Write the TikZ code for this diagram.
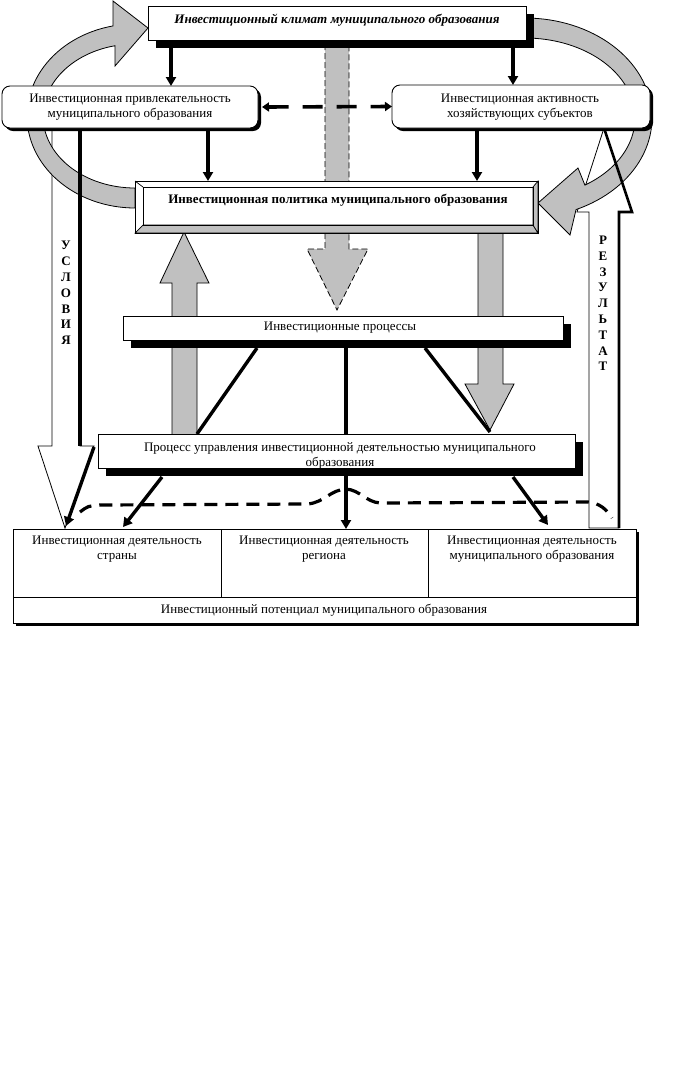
\documentclass[tikz,border=0pt]{standalone}
\usepackage{fontspec}
\setmainfont{Liberation Serif}
\usetikzlibrary{arrows.meta,shadows,calc}
\definecolor{ltgray}{RGB}{192,192,192}
\begin{document}
\begin{tikzpicture}[x=1pt,y=-1pt,
  txt/.style={font=\fontsize{13}{15}\selectfont, align=center, inner sep=0pt},
  box/.style={draw=black, fill=white, line width=0.9pt, inner sep=0pt, outer sep=0pt},
  bigshadow/.style={drop shadow={shadow xshift=8pt, shadow yshift=-8pt, fill=black, opacity=1}},
  smallshadow/.style={drop shadow={shadow xshift=3pt, shadow yshift=-3pt, fill=black, opacity=1}},
  blk/.style={line width=3.4pt, -{Triangle[length=9pt,width=10pt]}},
  bar/.style={line width=3.4pt},
  grayarrow/.style={fill=ltgray, draw=black, line width=0.8pt},
  whitearrow/.style={fill=white, draw=black, line width=0.8pt},
  dashline/.style={line width=3.2pt, dash pattern=on 13pt off 8pt},
  letters/.style={font=\bfseries\fontsize{13}{15.8}\selectfont, align=center, inner sep=0pt}
]
\fill[white] (0,0) rectangle (687,1080);
\useasboundingbox (0,0) rectangle (687,1080);

% white block arrows
\draw[whitearrow] (52,128) -- (52,446) -- (38,446) -- (65,528) -- (94,446) -- (80,446) -- (80,128) -- cycle;
\draw[whitearrow] (589,528) -- (589,212) -- (577,212) -- (604,128) -- (632,212) -- (619,212) -- (619,528) -- cycle;

% curved gray arrows
\draw[grayarrow] plot[domain=90:258.25,samples=60,variable=\t] ({135+108*cos(\t)},{116+92*sin(\t)})
  -- (113,1) -- (148,28) -- (115,66)
  -- plot[domain=257.5:90,samples=60,variable=\t] ({135+92*cos(\t)},{116+72*sin(\t)}) -- cycle;
\draw[grayarrow] plot[domain=268:426.3,samples=60,variable=\t] ({525+127*cos(\t)},{118+100*sin(\t)})
  -- (570,235) -- (538,203) -- (578,168)
  -- plot[domain=417:268,samples=60,variable=\t] ({525+110*cos(\t)},{118+80*sin(\t)}) -- cycle;

% thick sides of the white arrows
\draw[bar] (80,128) -- (80,446);
\draw[blk] (94,447) -- (66,526);
\draw[line width=2.6pt, line join=miter] (619,528) -- (619,212) -- (632,212) -- (604,128);

% straight gray arrows
\draw[grayarrow] (172,440) -- (172,283) -- (160,283) -- (184,232) -- (209,283) -- (197,283) -- (197,440) -- cycle;
\draw[grayarrow] (478,225) -- (478,384) -- (465,384) -- (490,430) -- (514,384) -- (503,384) -- (503,225) -- cycle;
\draw[grayarrow, dash pattern=on 6pt off 3pt] (325,44) -- (325,249) -- (307,249) -- (337,310) -- (368,249) -- (349,249) -- (349,44) -- cycle;

% boxes
\node[box, bigshadow, minimum width=378pt, minimum height=34pt] (klimat) at (337,23) {};
\node[txt, font=\bfseries\itshape\fontsize{13}{15}\selectfont] (klimatT) at (337,20) {Инвестиционный климат муниципального образования};

\node[box, smallshadow, rounded corners=8pt, minimum width=256pt, minimum height=42pt] (privl) at (130,107) {};
\node[txt] (privlT) at (130,107.5) {Инвестиционная привлекательность\\муниципального образования};

\node[box, smallshadow, rounded corners=8pt, minimum width=258pt, minimum height=43pt] (aktiv) at (521,106.5) {};
\node[txt] (aktivT) at (520,107.5) {Инвестиционная активность\\хозяйствующих субъектов};

\node[box, minimum width=403pt, minimum height=52pt] (politika) at (336.5,207) {};
\filldraw[fill=ltgray, draw=black, line width=0.7pt] (135,233) -- (538,233) -- (533,225) -- (143,225) -- cycle;
\filldraw[fill=ltgray, draw=black, line width=0.7pt] (538,181) -- (538,233) -- (533,225) -- (533,187) -- cycle;
\draw[line width=0.7pt] (135,181) -- (143,187);
\draw[line width=0.9pt] (143,187) rectangle (533,225);
\draw[line width=0.9pt] (politika.south west) rectangle (politika.north east);
\node[txt, font=\bfseries\fontsize{13}{15}\selectfont] (politikaT) at (338,200) {Инвестиционная политика муниципального образования};

\node[box, bigshadow, minimum width=440pt, minimum height=24pt] (processy) at (343,328) {};
\node[txt] (processyT) at (340,328) {Инвестиционные процессы};

\node[box, bigshadow, minimum width=477pt, minimum height=34pt] (upravl) at (336.5,451) {};
\node[txt] (upravlT) at (340,455.5) {Процесс управления инвестиционной деятельностью муниципального\\образования};

\node[box, smallshadow, minimum width=623pt, minimum height=94pt] (tabl) at (324.5,576) {};
\draw[line width=0.9pt] (tabl.west |- 0,597) -- (tabl.east |- 0,597);
\draw[line width=0.9pt] (221,529) -- (221,597);
\draw[line width=0.9pt] (428,529) -- (428,597);
\node[txt] (c1) at (117,549.5) {Инвестиционная деятельность\\страны};
\node[txt] (c2) at (324,549.5) {Инвестиционная деятельность\\региона};
\node[txt] (c3) at (532,549.5) {Инвестиционная деятельность\\муниципального образования};
\node[txt] (c4) at (324,610) {Инвестиционный потенциал муниципального образования};

% black arrows
\draw[blk] ([yshift=-8pt]klimat.south -| 171,0) -- (privl.north -| 171,0);
\draw[blk] ([yshift=-8pt]klimat.south -| 513,0) -- (aktiv.north -| 513,0);
\draw[blk] ([yshift=-3pt]privl.south -| 208,0) -- (politika.north -| 208,0);
\draw[blk] ([yshift=-3pt]aktiv.south -| 477,0) -- (politika.north -| 477,0);
\draw[line width=3.6pt, dash pattern=on 20pt off 14pt, {Triangle[length=7pt,width=9pt]}-{Triangle[length=7pt,width=9pt]}] ([xshift=4pt]privl.east) -- (aktiv.west);

\draw[bar] (257,348) -- (197,434);
\draw[bar] ([yshift=-8pt]processy.south -| 346,0) -- (upravl.north -| 346,0);
\draw[bar] (425,348) -- (490,432);

\draw[blk] (162,477) -- (123,527);
\draw[blk] ([yshift=-8pt]upravl.south -| 346,0) -- (tabl.north -| 346,0);
\draw[blk] (513,477) -- (548,525);

\draw[dashline] (80,512) .. controls (88,506) .. (100,505) -- (308,504) .. controls (325,502) and (330,490) .. (346,489) .. controls (360,490) and (366,502) .. (380,503) -- (588,502) .. controls (600,503) and (607,510) .. (612,518);

% vertical words
\node[letters] (usl) at (66,293) {У\\С\\Л\\О\\В\\И\\Я};
\node[letters] (rez) at (603,303.5) {Р\\Е\\З\\У\\Л\\Ь\\Т\\А\\Т};
\end{tikzpicture}
\end{document}
